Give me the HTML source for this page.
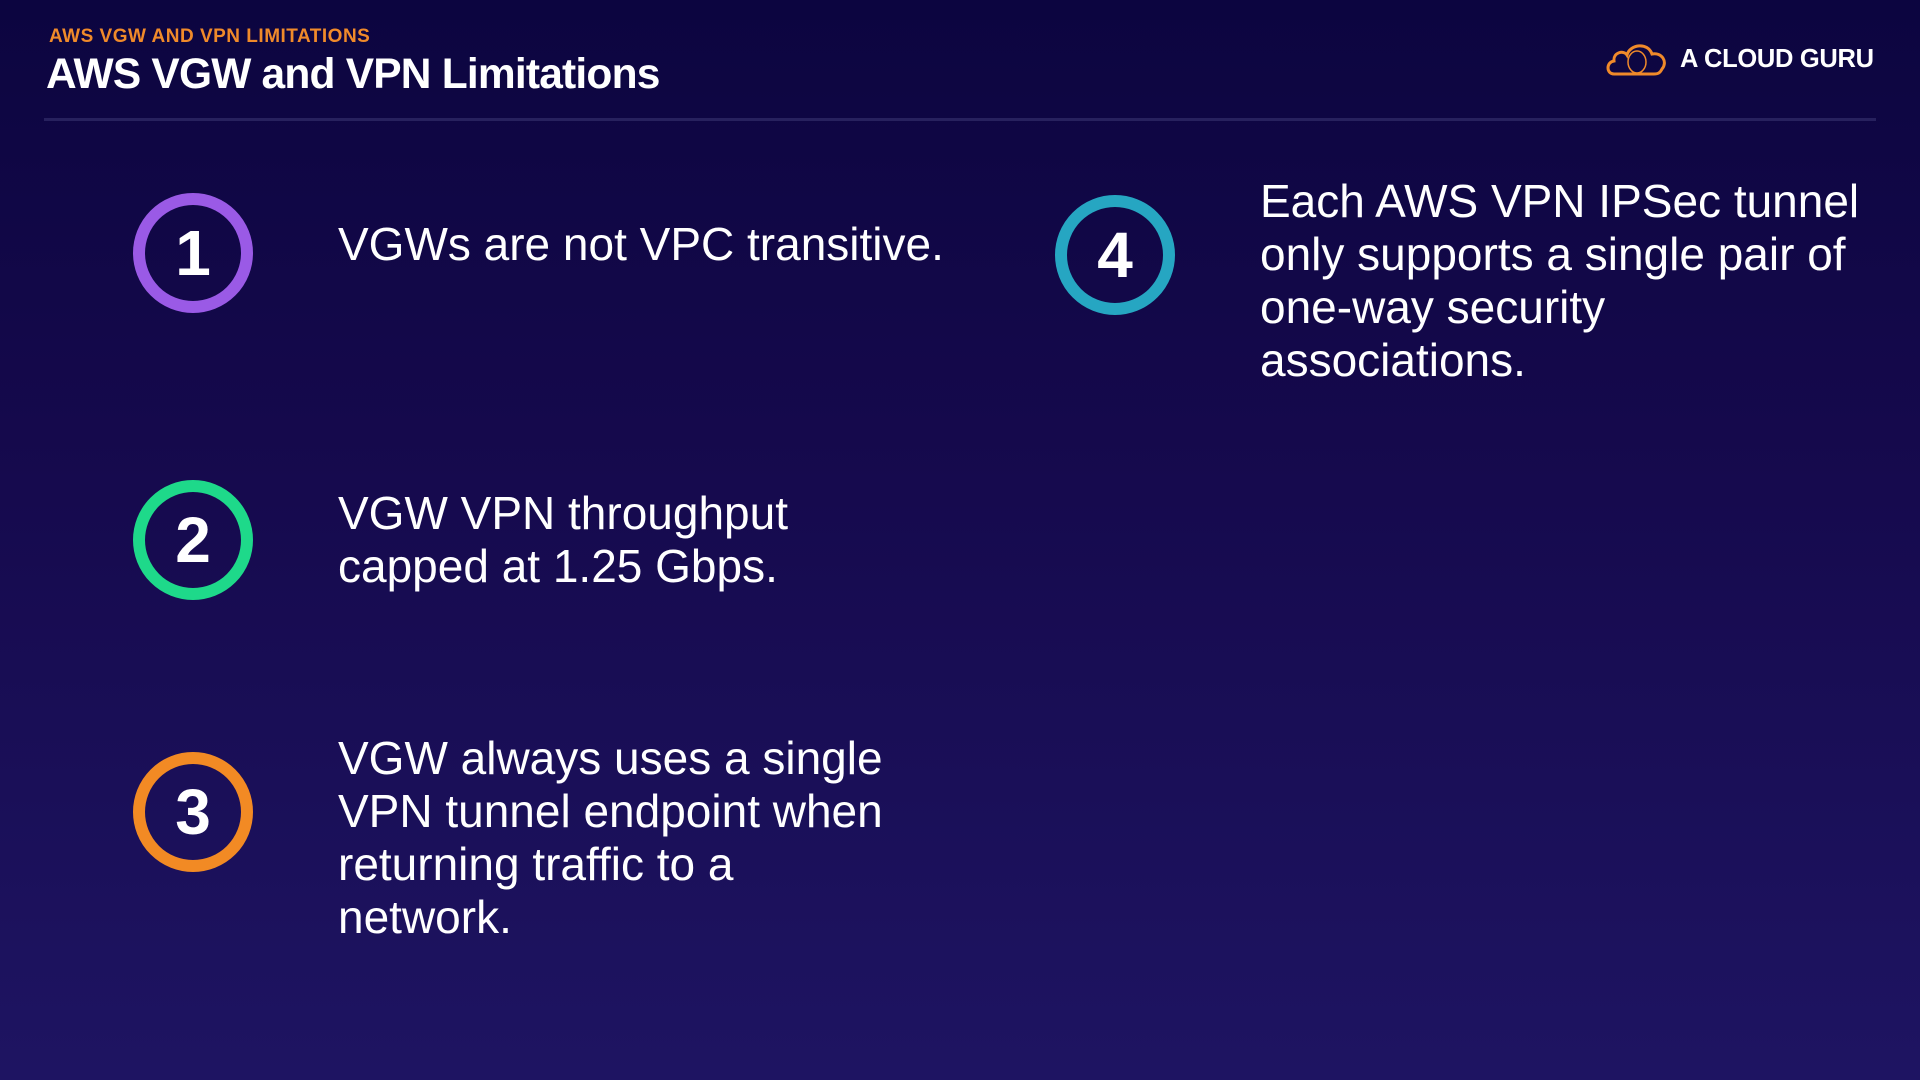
<!DOCTYPE html>
<html><head><meta charset="utf-8"><style>
html,body{margin:0;padding:0}
body{width:1920px;height:1080px;position:relative;overflow:hidden;background:linear-gradient(180deg,#0c0540 0%,#15094c 40%,#1e1462 100%);font-family:"Liberation Sans",sans-serif;color:#fff}
.a{position:absolute}
.sub{left:49px;top:26px;font-size:19px;font-weight:bold;color:#f08a2a;letter-spacing:0.5px}
.title{left:46px;top:51px;font-size:42.5px;font-weight:bold;letter-spacing:-0.8px}
.rule{left:44px;top:118px;width:1832px;height:3px;background:#27215e}
.logo{left:1680px;top:45px;font-size:25.5px;font-weight:bold;letter-spacing:-0.3px}
.c{width:120px;height:120px;border-radius:50%;border:12px solid;box-sizing:border-box;display:flex;align-items:center;justify-content:center;font-size:64px;font-weight:bold}
.t{font-size:46px;line-height:53px;white-space:nowrap}
</style></head><body>
<div class="a sub">AWS VGW AND VPN LIMITATIONS</div>
<div class="a title">AWS VGW and VPN Limitations</div>
<div class="a rule"></div>
<svg class="a" style="left:1604px;top:38px" width="66" height="40" viewBox="0 0 66 40"><path d="M10 36 C2 36 2 24 10 23 C9 14 20 12 23 17 C26 6 44 4 48 16 C58 14 64 24 58 31 C56 35 54 36 50 36 Z" fill="none" stroke="#f08a2a" stroke-width="3"/><ellipse cx="33" cy="24" rx="9" ry="11" fill="none" stroke="#f08a2a" stroke-width="1.5"/></svg>
<div class="a logo">A CLOUD GURU</div>
<div class="a c" style="left:133px;top:193px;border-color:#9a5ae6">1</div>
<div class="a c" style="left:133px;top:480px;border-color:#1ed98a">2</div>
<div class="a c" style="left:133px;top:752px;border-color:#f28a24">3</div>
<div class="a c" style="left:1055px;top:195px;border-color:#26a6c2">4</div>
<div class="a t" style="left:338px;top:218px">VGWs are not VPC transitive.</div>
<div class="a t" style="left:338px;top:487px">VGW VPN throughput<br>capped at 1.25 Gbps.</div>
<div class="a t" style="left:338px;top:732px">VGW always uses a single<br>VPN tunnel endpoint when<br>returning traffic to a<br>network.</div>
<div class="a t" style="left:1260px;top:175px">Each AWS VPN IPSec tunnel<br>only supports a single pair of<br>one-way security<br>associations.</div>
</body></html>
